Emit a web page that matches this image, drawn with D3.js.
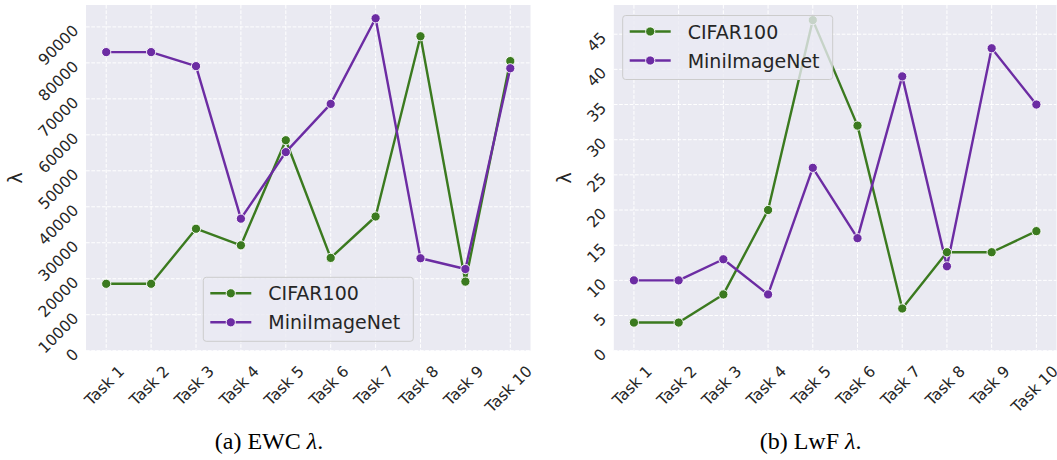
<!DOCTYPE html>
<html>
<head>
<meta charset="utf-8">
<script src="https://cdn.jsdelivr.net/npm/d3@7"></script>
<style>
  body { margin: 0; background: #fff; }
  svg { display: block; }
</style>
</head>
<body>
<div id="vis"></div>
<script>
// categories
var tasks = ["Task 1", "Task 2", "Task 3", "Task 4", "Task 5", "Task 6", "Task 7", "Task 8", "Task 9", "Task 10"];

// (a) EWC lambda
var ewcCifar = [18600, 18600, 33900, 29300, 58500, 25800, 37300, 87400, 19200, 80500];
var ewcMini  = [83000, 83000, 79100, 36700, 55200, 68600, 92400, 25700, 22700, 78500];
var ewcTicks = [0, 10000, 20000, 30000, 40000, 50000, 60000, 70000, 80000, 90000];

// (b) LwF lambda
var lwfCifar = [4, 4, 8, 20, 47, 32, 6, 14, 14, 17];
var lwfMini  = [10, 10, 13, 8, 26, 16, 39, 12, 43, 35];
var lwfTicks = [0, 5, 10, 15, 20, 25, 30, 35, 40, 45];

var seriesNames = ["CIFAR100", "MiniImageNet"];
var colors = ["#3b7a1f", "#6c2ca3"];

var svg = d3.select("#vis").append("svg")
    .attr("width", 1057)
    .attr("height", 460);

var tickFont = "DejaVu Sans, sans-serif";
var tickSize = 15.5;

function drawPanel(p) {
  var x = d3.scalePoint().domain(tasks).range([p.left, p.right]).padding(0.45);
  var all = p.series[0].concat(p.series[1]);
  var lo = d3.min(all), hi = d3.max(all);
  var y = d3.scaleLinear().domain([0, hi + 0.05 * (hi - lo)]).range([p.bottom, p.top]);

  var g = svg.append("g");

  // background
  g.append("rect")
      .attr("x", p.left).attr("y", p.top)
      .attr("width", p.right - p.left).attr("height", p.bottom - p.top)
      .attr("fill", "#eaeaf2");

  // grid
  g.selectAll(".hgrid").data(p.ticks).enter().append("line")
      .attr("x1", p.left).attr("x2", p.right)
      .attr("y1", function(d) { return y(d); })
      .attr("y2", function(d) { return y(d); })
      .attr("stroke", "#fff").attr("stroke-width", 1)
      .attr("stroke-dasharray", "3.7,1.6");
  g.selectAll(".vgrid").data(tasks).enter().append("line")
      .attr("y1", p.top).attr("y2", p.bottom)
      .attr("x1", function(d) { return x(d); })
      .attr("x2", function(d) { return x(d); })
      .attr("stroke", "#fff").attr("stroke-width", 1)
      .attr("stroke-dasharray", "3.7,1.6");

  // lines + markers
  var line = d3.line()
      .x(function(d, i) { return x(tasks[i]); })
      .y(function(d) { return y(d); });

  p.series.forEach(function(s, k) {
    g.append("path")
        .datum(s)
        .attr("fill", "none")
        .attr("stroke", colors[k])
        .attr("stroke-width", 2.4)
        .attr("stroke-linejoin", "round")
        .attr("d", line);
  });
  p.series.forEach(function(s, k) {
    g.selectAll(".pt" + k).data(s).enter().append("circle")
        .attr("cx", function(d, i) { return x(tasks[i]); })
        .attr("cy", function(d) { return y(d); })
        .attr("r", 4.6)
        .attr("fill", colors[k])
        .attr("stroke", "#fff")
        .attr("stroke-width", 0.9);
  });

  // y tick labels, rotated 45
  g.selectAll(".ylab").data(p.ticks).enter().append("text")
      .attr("transform", function(d) { return "translate(" + (p.left - 10) + "," + (y(d) + 1) + ") rotate(-45)"; })
      .attr("text-anchor", "end")
      .attr("dominant-baseline", "central")
      .attr("font-family", tickFont)
      .attr("font-size", tickSize)
      .attr("fill", "#262626")
      .text(function(d) { return d; });

  // x tick labels, rotated 45, box centred on tick
  g.selectAll(".xlab").data(tasks).enter().append("text")
      .attr("text-anchor", "middle")
      .attr("dominant-baseline", "central")
      .attr("font-family", tickFont)
      .attr("font-size", tickSize)
      .attr("fill", "#262626")
      .text(function(d) { return d; })
      .attr("transform", function(d) {
        var w = this.getComputedTextLength(), h = tickSize * 0.75;
        var half = (w + h) / (2 * Math.SQRT2);
        return "translate(" + (x(d) - 1.5) + "," + (p.bottom + 14 + half) + ") rotate(-45)";
      });

  // axis label
  g.append("text")
      .attr("transform", "translate(" + p.ylabX + "," + ((p.top + p.bottom) / 2) + ") rotate(-90)")
      .attr("text-anchor", "middle")
      .attr("dominant-baseline", "central")
      .attr("font-family", tickFont)
      .attr("font-size", 19)
      .attr("fill", "#262626")
      .text("λ");

  // legend
  var lg = g.append("g").attr("transform", "translate(" + p.legX + "," + p.legY + ")");
  lg.append("rect")
      .attr("width", 210).attr("height", 64)
      .attr("rx", 3).attr("ry", 3)
      .attr("fill", "#eaeaf2").attr("fill-opacity", 0.8)
      .attr("stroke", "#cccccc").attr("stroke-width", 1);
  seriesNames.forEach(function(name, k) {
    var ly = 16 + k * 29;
    lg.append("line")
        .attr("x1", 7).attr("x2", 48).attr("y1", ly).attr("y2", ly)
        .attr("stroke", colors[k]).attr("stroke-width", 2.4);
    lg.append("circle")
        .attr("cx", 27.5).attr("cy", ly).attr("r", 4.6)
        .attr("fill", colors[k]).attr("stroke", "#fff").attr("stroke-width", 0.9);
    lg.append("text")
        .attr("x", 65).attr("y", ly)
        .attr("dominant-baseline", "central")
        .attr("font-family", tickFont)
        .attr("font-size", 19)
        .attr("fill", "#262626")
        .text(name);
  });

  // caption
  var cap = svg.append("text")
      .attr("x", p.capX).attr("y", 449)
      .attr("text-anchor", "middle")
      .attr("font-family", "Liberation Serif, Times New Roman, serif")
      .attr("font-size", 24)
      .attr("fill", "#000");
  cap.append("tspan").text(p.caption + " ");
  cap.append("tspan").attr("font-style", "italic").text("λ");
  cap.append("tspan").text(".");
}

drawPanel({
  left: 86, right: 530.5, top: 5, bottom: 350.7,
  series: [ewcCifar, ewcMini], ticks: ewcTicks,
  ylabX: 15, legX: 203.3, legY: 277.3,
  capX: 269, caption: "(a) EWC"
});

drawPanel({
  left: 613.8, right: 1056.5, top: 5, bottom: 350.7,
  series: [lwfCifar, lwfMini], ticks: lwfTicks,
  ylabX: 564, legX: 622.7, legY: 15.5,
  capX: 810.6, caption: "(b) LwF"
});
</script>
</body>
</html>
